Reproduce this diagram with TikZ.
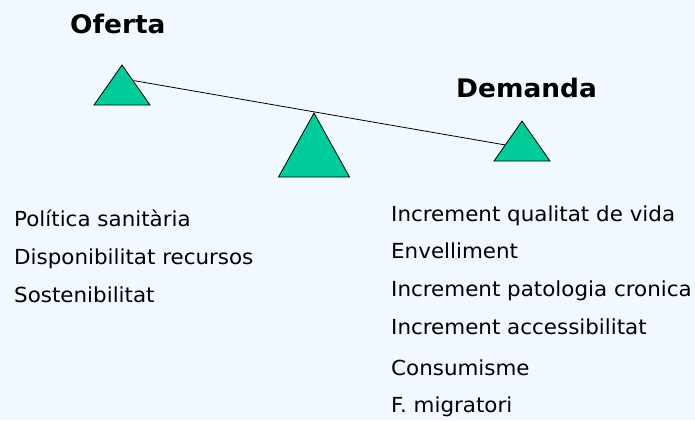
\documentclass[tikz,border=0pt]{standalone}
\usepackage{fontspec}
\setmainfont{DejaVu Sans}[FakeStretch=1.035]
\usetikzlibrary{calc, positioning, shapes.geometric}
\definecolor{fons}{RGB}{242,248,255}
\definecolor{verd}{RGB}{0,204,153}

\begin{document}
\begin{tikzpicture}[x=1pt, y=-1pt]
\tikzstyle{plat} = [isosceles triangle, isosceles triangle stretches, shape border rotate=90, fill=verd, draw=black, line width=0.8pt, inner sep=0pt, anchor=apex]
\tikzstyle{titol} = [font=\bfseries\fontsize{25.5}{30}\selectfont, inner sep=0pt, anchor=base west]
\tikzstyle{factor} = [font=\fontsize{20.7}{24}\selectfont, inner sep=0pt, anchor=base west]

\useasboundingbox[fill=fons] (0,0) rectangle (695,420);

% balanca
\node[plat, minimum width=56pt, minimum height=40pt] (ofe) at (122,64) {};
\node[plat, minimum width=71pt, minimum height=64pt] (mig) at (314,112) {};
\node[plat, minimum width=56pt, minimum height=40pt] (dem) at (522,120) {};
\draw[line width=0.8pt] ($(ofe.apex)!.4!(ofe.right corner)$) -- ($(dem.apex)!.6!(dem.left corner)$);

\node[titol] (tofe) at (70,34) {Oferta};
\node[titol] (tdem) at (456,97) {Demanda};

% factors
\foreach \txt/\y [count=\i] in {Política sanitària/226, Disponibilitat recursos/264, Sostenibilitat/302}
  \node[factor] (o\i) at (14,\y) {\txt};
\foreach \txt/\y [count=\i] in {Increment qualitat de vida/221, Envelliment/258, Increment patologia cronica/296, Increment accessibilitat/334, Consumisme/375, F. migratori/412}
  \node[factor] (d\i) at (391,\y) {\txt};
\end{tikzpicture}
\end{document}
